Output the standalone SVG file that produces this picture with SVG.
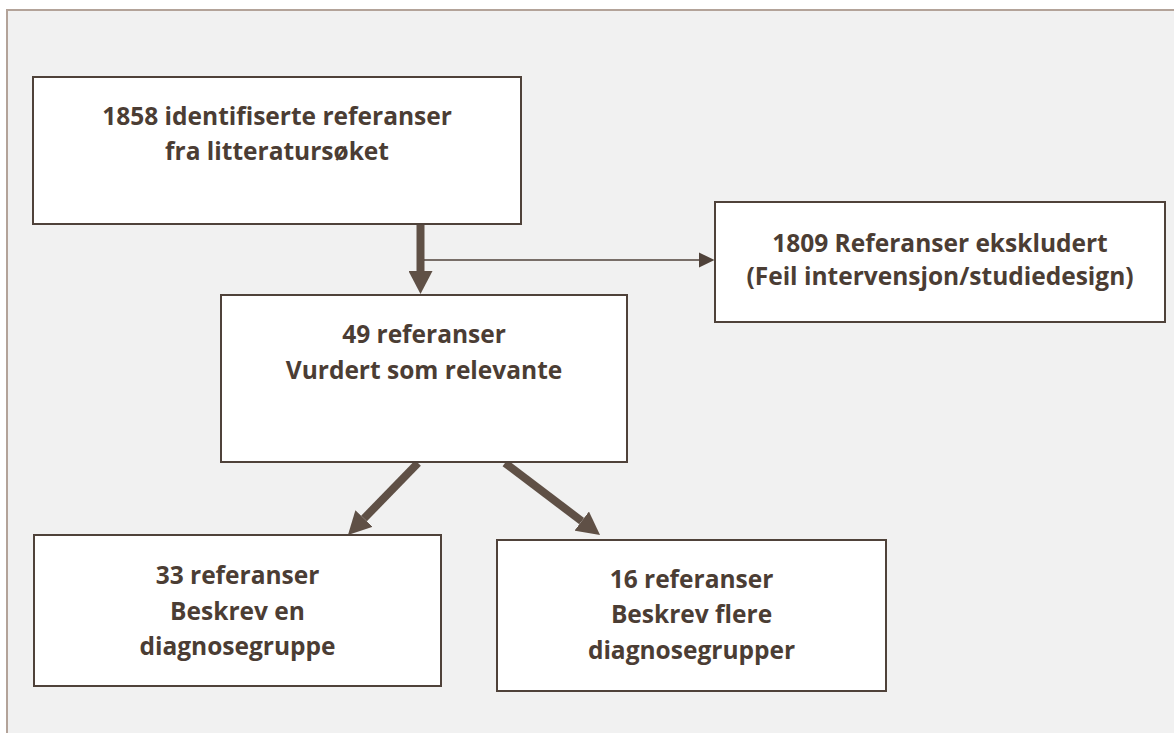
<svg xmlns="http://www.w3.org/2000/svg" width="1174" height="733" viewBox="0 0 1174 733">
<style>
.box{fill:#ffffff;stroke:#4f423a;stroke-width:2}
.t{font-family:"Open Sans","Liberation Sans",sans-serif;font-weight:bold;font-size:24.5px;fill:#4b3d34;text-anchor:middle}
.thick{stroke:#5f5046;stroke-width:8;fill:none}
.thin{stroke:#4f423a;stroke-width:1.6;fill:none}
</style>
<defs>
<marker id="bighead" markerUnits="userSpaceOnUse" markerWidth="24" markerHeight="24" refX="0" refY="12" orient="auto" viewBox="0 0 24 24">
<path d="M0,0 L23,12 L0,24 Z" fill="#5f5046"/>
</marker>
<marker id="smallhead" markerUnits="userSpaceOnUse" markerWidth="16" markerHeight="16" refX="0" refY="8" orient="auto" viewBox="0 0 16 16">
<path d="M0,0.5 L15.5,8 L0,15.5 Z" fill="#4f423a"/>
</marker>
</defs>
<rect x="0" y="0" width="1174" height="733" fill="#ffffff"/>
<rect x="7" y="10" width="1180" height="740" fill="#f1f1f1" stroke="#b3a399" stroke-width="2"/>
<g id="connectors">
<line class="thick" x1="420.5" y1="224" x2="420.5" y2="271" marker-end="url(#bighead)"/>
<line class="thin" x1="424" y1="260" x2="699" y2="260" marker-end="url(#smallhead)"/>
<line class="thick" x1="418" y1="463" x2="364" y2="518.5" marker-end="url(#bighead)"/>
<line class="thick" x1="505" y1="463" x2="581.7" y2="521.1" marker-end="url(#bighead)"/>
</g>
<g id="n1">
<rect class="box" x="33" y="77" width="488" height="147"/>
<text class="t" x="277" y="125">1858 identifiserte referanser</text>
<text class="t" x="277" y="160">fra litteratursøket</text>
</g>
<g id="n2">
<rect class="box" x="715" y="202" width="450" height="120"/>
<text class="t" x="940" y="252">1809 Referanser ekskludert</text>
<text class="t" x="940" y="285">(Feil intervensjon/studiedesign)</text>
</g>
<g id="n3">
<rect class="box" x="221" y="295" width="406" height="167"/>
<text class="t" x="424" y="343">49 referanser</text>
<text class="t" x="424" y="379">Vurdert som relevante</text>
</g>
<g id="n4">
<rect class="box" x="34" y="535" width="407" height="151"/>
<text class="t" x="237.5" y="584">33 referanser</text>
<text class="t" x="237.5" y="620">Beskrev en</text>
<text class="t" x="237.5" y="655">diagnosegruppe</text>
</g>
<g id="n5">
<rect class="box" x="497" y="540" width="389" height="151"/>
<text class="t" x="691.5" y="588">16 referanser</text>
<text class="t" x="691.5" y="623">Beskrev flere</text>
<text class="t" x="691.5" y="659">diagnosegrupper</text>
</g>
</svg>
